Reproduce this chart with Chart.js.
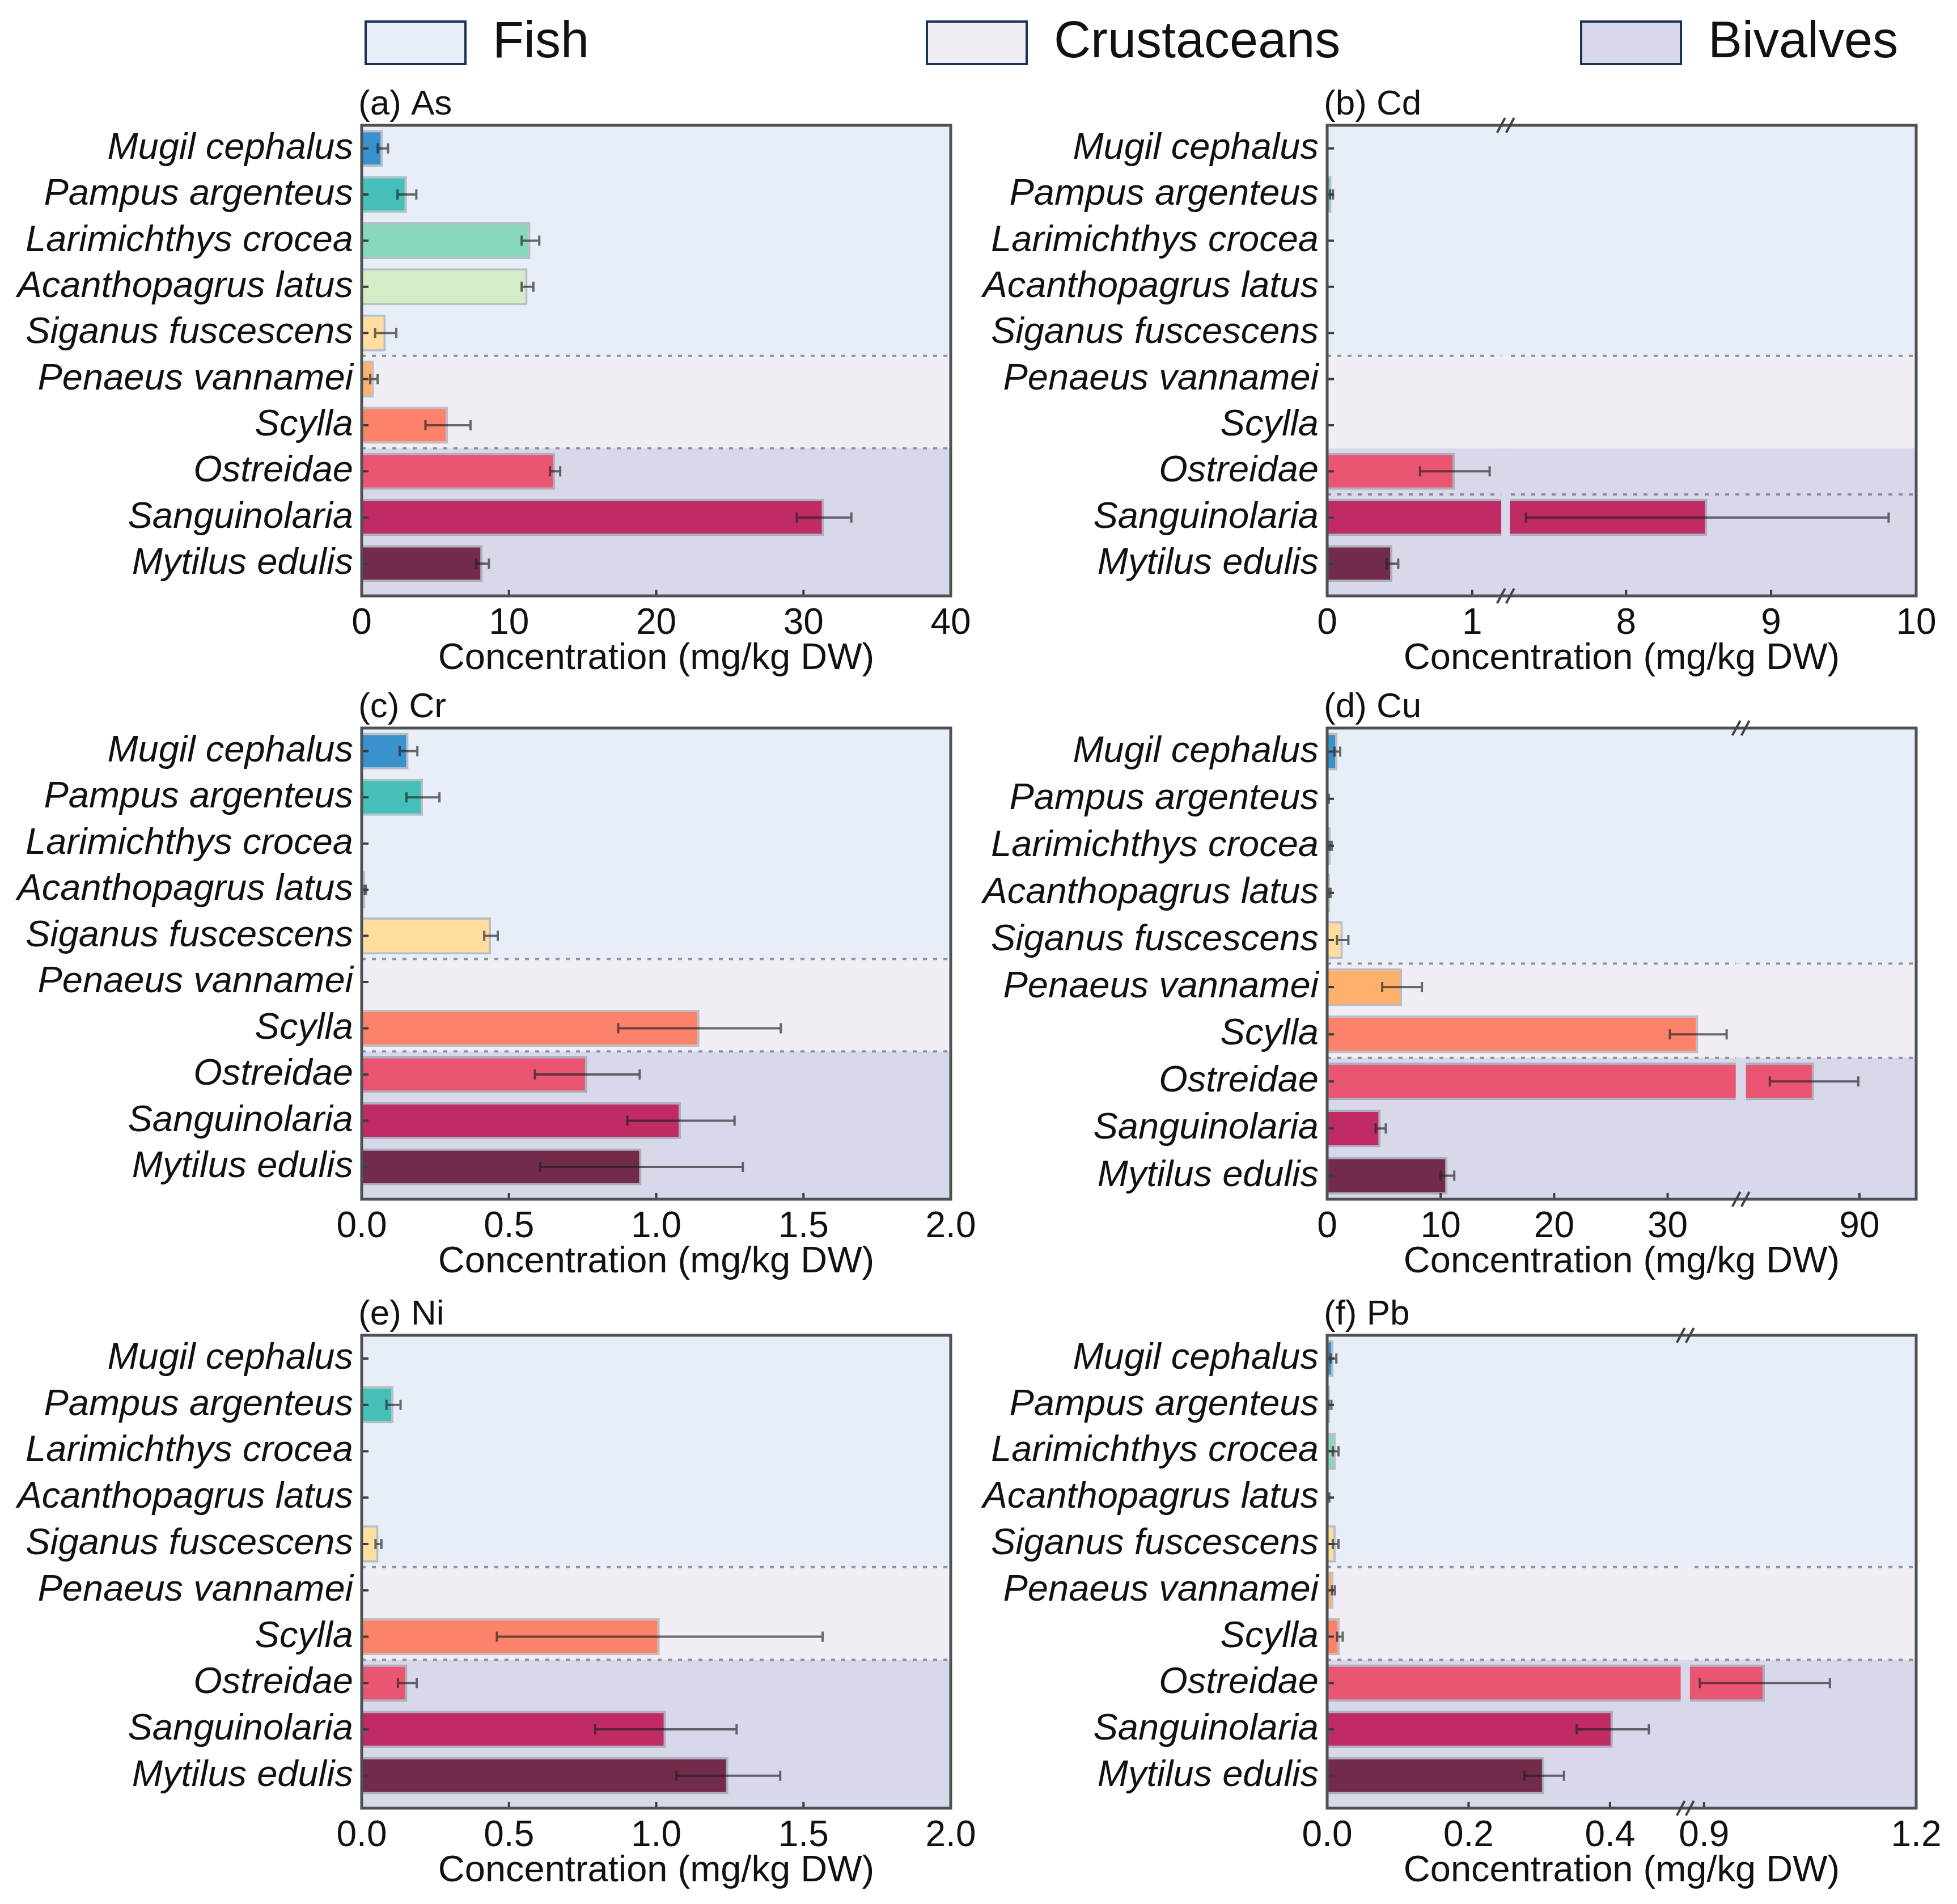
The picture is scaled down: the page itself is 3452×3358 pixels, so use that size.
<!DOCTYPE html>
<html>
<head>
<meta charset="utf-8">
<title>Metal concentrations in seafood</title>
<script src="https://cdn.jsdelivr.net/npm/chart.js@4.4.1/dist/chart.umd.min.js"></script>
<style>
  html, body { margin: 0; padding: 0; background: #fff; }
  #page { position: relative; width: 3452px; height: 3358px; overflow: hidden;
          font-family: "Liberation Sans", Arial, sans-serif; color: #111; }
  canvas { position: absolute; }
  .lg-box { position: absolute; top: 36px; width: 172px; height: 71px; border: 4px solid #1b3157; }
  .lg-text { position: absolute; top: 25px; font-size: 90px; line-height: 90px; white-space: nowrap; }
</style>
</head>
<body>
<div id="page"></div>
<script>
// species, top to bottom
species = [
    'Mugil cephalus', 'Pampus argenteus', 'Larimichthys crocea',
    'Acanthopagrus latus', 'Siganus fuscescens', 'Penaeus vannamei',
    'Scylla', 'Ostreidae', 'Sanguinolaria', 'Mytilus edulis'
]
groupNames = ['Fish', 'Crustaceans', 'Bivalves']
groupColors = ['#e7eef8', '#f1edf4', '#d7d9eb']
barColors = ['#3a92cc', '#45c0b8', '#8ad7c0', '#d4ecc8', '#fedd9f',
             '#fdb16b', '#fd826b', '#ea5672', '#c02b65', '#722b4a']

// mean and sd (mg/kg DW)
asMean = [1.44, 3.07, 11.46, 11.26, 1.63, 0.83, 5.86, 13.13, 31.4, 8.21]
asSd   = [0.35, 0.64, 0.6, 0.4, 0.72, 0.25, 1.53, 0.35, 1.85, 0.43]
asTicks = [0, 10, 20, 30, 40]

cdMean = [0, 0.03, 0, 0, 0, 0, 0, 0.88, 8.56, 0.45]
cdSd   = [0, 0.01, 0, 0, 0, 0, 0, 0.24, 1.25, 0.04]
cdTicks = [0, 1, 8, 9, 10]

crMean = [0.159, 0.208, 0.002, 0.012, 0.439, 0.002, 1.147, 0.766, 1.084, 0.95]
crSd   = [0.03, 0.056, 0, 0.002, 0.023, 0, 0.276, 0.178, 0.182, 0.344]
crTicks = [0, 0.5, 1, 1.5, 2]

cuMean = [0.9, 0.1, 0.3, 0.25, 1.37, 6.6, 32.7, 86.0, 4.72, 10.6]
cuSd   = [0.25, 0.05, 0.1, 0.05, 0.5, 1.75, 2.5, 3.9, 0.45, 0.6]
cuTicks = [0, 10, 20, 30, 90]

niMean = [0, 0.108, 0, 0, 0.057, 0, 1.012, 0.155, 1.033, 1.245]
niSd   = [0, 0.024, 0, 0, 0.01, 0, 0.553, 0.032, 0.24, 0.176]
niTicks = [0, 0.5, 1, 1.5, 2]

pbMean = [0.009, 0.004, 0.012, 0.002, 0.012, 0.009, 0.018, 0.986, 0.404, 0.307]
pbSd   = [0.004, 0.002, 0.004, 0.001, 0.004, 0.002, 0.004, 0.092, 0.051, 0.028]
pbTicks = [0, 0.2, 0.4, 0.9, 1.2]

// group boundaries on the category axis
groupEdges = [4.5, 6.5]

panels = [
    {id: 'a', title: '(a) As', mean: asMean, sd: asSd, ticks: asTicks, max: 40, dec: 0,
     brk: null, lines: [4.5, 6.5], yMax: 9.7, col: 0, top: 221, bottom: 1051},
    {id: 'b', title: '(b) Cd', mean: cdMean, sd: cdSd, ticks: cdTicks, max: 10, dec: 0,
     brk: {a: 1.2, b: 7.2, gap: 0.06}, lines: [4.5, 7.5], yMax: 9.7, col: 1, top: 221, bottom: 1051},
    {id: 'c', title: '(c) Cr', mean: crMean, sd: crSd, ticks: crTicks, max: 2, dec: 1,
     brk: null, lines: [4.5, 6.5], yMax: 9.7, col: 0, top: 1284, bottom: 2115},
    {id: 'd', title: '(d) Cu', mean: cuMean, sd: cuSd, ticks: cuTicks, max: 95, dec: 0,
     brk: {a: 36, b: 80, gap: 0.9}, lines: [4.5, 6.5], yMax: 9.5, col: 1, top: 1284, bottom: 2115},
    {id: 'e', title: '(e) Ni', mean: niMean, sd: niSd, ticks: niTicks, max: 2, dec: 1,
     brk: null, lines: [4.5, 6.5], yMax: 9.7, col: 0, top: 2355, bottom: 3189},
    {id: 'f', title: '(f) Pb', mean: pbMean, sd: pbSd, ticks: pbTicks, max: 1.2, dec: 1,
     brk: {a: 0.5, b: 0.88, gap: 0.013}, lines: [4.5, 6.5], yMax: 9.7, col: 1, top: 2355, bottom: 3189}
]

columns = [
    {left: 0, yWidth: 638, padRight: 49},
    {left: 1726, yWidth: 615, padRight: 72}
]

panelById = {}
panels.forEach(p => panelById['chart-' + p.id] = p)

Chart.defaults.font.family = '"Liberation Sans", Arial, sans-serif'
Chart.defaults.font.size = 64
Chart.defaults.color = '#111'

// linear scale with an optional break: [a, b] is squeezed into a small gap
class BrokenScale extends Chart.LinearScale {
    brk() {
        const p = panelById[this.chart.canvas.id]
        return p ? p.brk : null
    }
    toD(v) {
        const k = this.brk()
        if (!k) return v
        if (v <= k.a) return v
        if (v >= k.b) return v - k.b + k.a + k.gap
        return k.a + (v - k.a) / (k.b - k.a) * k.gap
    }
    getPixelForValue(value) {
        if (value === null || value === undefined || isNaN(value)) return NaN
        const d0 = this.toD(this.min), d1 = this.toD(this.max)
        return this.getPixelForDecimal((this.toD(value) - d0) / (d1 - d0))
    }
    getValueForPixel(pixel) {
        const d0 = this.toD(this.min), d1 = this.toD(this.max)
        const d = d0 + this.getDecimalForPixel(pixel) * (d1 - d0)
        const k = this.brk()
        if (!k || d <= k.a) return d
        if (d >= k.a + k.gap) return d - k.a - k.gap + k.b
        return k.a + (d - k.a) / k.gap * (k.b - k.a)
    }
}
BrokenScale.id = 'broken'
BrokenScale.defaults = Chart.LinearScale.defaults
Chart.register(BrokenScale)

decor = {
    id: 'decor',
    beforeDatasetsDraw(chart) {
        const p = panelById[chart.canvas.id]
        const {ctx, chartArea: ca} = chart
        const y = chart.scales.y
        const edges = [ca.top, y.getPixelForValue(groupEdges[0]), y.getPixelForValue(groupEdges[1]), ca.bottom]
        ctx.save()
        for (let g = 0; g < 3; g++) {
            ctx.fillStyle = groupColors[g]
            ctx.fillRect(ca.left, edges[g], ca.right - ca.left, edges[g + 1] - edges[g])
        }
        ctx.strokeStyle = 'rgba(115, 115, 128, 0.75)'
        ctx.lineWidth = 4
        ctx.setLineDash([7, 11])
        p.lines.forEach(v => {
            const yy = y.getPixelForValue(v)
            ctx.beginPath()
            ctx.moveTo(ca.left, yy)
            ctx.lineTo(ca.right, yy)
            ctx.stroke()
        })
        ctx.restore()
    },
    afterDraw(chart) {
        const p = panelById[chart.canvas.id]
        const {ctx, chartArea: ca} = chart
        const x = chart.scales.x, y = chart.scales.y
        ctx.save()

        // gap of the broken axis
        let gx0 = null, gx1 = null
        if (p.brk) {
            gx0 = x.getPixelForValue(p.brk.a)
            gx1 = x.getPixelForValue(p.brk.b)
            const edges = [ca.top, y.getPixelForValue(groupEdges[0]), y.getPixelForValue(groupEdges[1]), ca.bottom]
            for (let g = 0; g < 3; g++) {
                ctx.fillStyle = groupColors[g]
                ctx.fillRect(gx0, edges[g], gx1 - gx0, edges[g + 1] - edges[g])
            }
        }

        // error bars
        const meta = chart.getDatasetMeta(0)
        ctx.strokeStyle = 'rgba(30, 30, 30, 0.65)'
        ctx.lineWidth = 4
        p.mean.forEach((m, i) => {
            const s = p.sd[i]
            if (!s) return
            const yy = meta.data[i].y
            const x1 = x.getPixelForValue(Math.max(0, m - s))
            const x2 = x.getPixelForValue(m + s)
            ctx.beginPath()
            ctx.moveTo(x1, yy); ctx.lineTo(x2, yy)
            ctx.moveTo(x1, yy - 9); ctx.lineTo(x1, yy + 9)
            ctx.moveTo(x2, yy - 9); ctx.lineTo(x2, yy + 9)
            ctx.stroke()
        })

        // inward ticks
        ctx.strokeStyle = '#3a3d40'
        ctx.lineWidth = 4
        ctx.beginPath()
        species.forEach((s, i) => {
            const yy = y.getPixelForValue(i)
            ctx.moveTo(ca.left, yy); ctx.lineTo(ca.left + 12, yy)
        })
        p.ticks.forEach(v => {
            const xx = x.getPixelForValue(v)
            if (xx - ca.left < 6 || ca.right - xx < 6) return
            ctx.moveTo(xx, ca.bottom); ctx.lineTo(xx, ca.bottom - 11)
        })
        ctx.stroke()

        // frame
        ctx.strokeStyle = '#4c5154'
        ctx.lineWidth = 5
        ctx.strokeRect(ca.left, ca.top, ca.right - ca.left, ca.bottom - ca.top)

        // break marks
        if (p.brk) {
            const mx = (gx0 + gx1) / 2
            ctx.strokeStyle = '#3f4244'
            ctx.lineWidth = 4
            ctx.beginPath()
            ;[ca.top, ca.bottom].forEach(yy => {
                ;[-8, 8].forEach(dx => {
                    ctx.moveTo(mx + dx - 7, yy + 13)
                    ctx.lineTo(mx + dx + 7, yy - 13)
                })
            })
            ctx.stroke()
        }

        // panel title
        ctx.fillStyle = '#111'
        ctx.font = '62px "Liberation Sans", Arial, sans-serif'
        ctx.textAlign = 'left'
        ctx.textBaseline = 'alphabetic'
        ctx.fillText(p.title, ca.left - 6, ca.top - 19)
        ctx.restore()
    }
}

page = document.getElementById('page')

// legend
legendLeft = [643, 1633, 2787]
groupNames.forEach((name, g) => {
    const box = document.createElement('div')
    box.className = 'lg-box'
    box.style.left = legendLeft[g] + 'px'
    box.style.background = groupColors[g]
    page.appendChild(box)
    const txt = document.createElement('div')
    txt.className = 'lg-text'
    txt.style.left = (legendLeft[g] + 226) + 'px'
    txt.textContent = name
    page.appendChild(txt)
})

function init_panel(p) {
    const col = columns[p.col]
    const canvas = document.createElement('canvas')
    canvas.id = 'chart-' + p.id
    const w = 1726, h = (p.bottom - p.top) + 250
    canvas.width = w
    canvas.height = h
    canvas.style.left = col.left + 'px'
    canvas.style.top = (p.top - 100) + 'px'
    canvas.style.width = w + 'px'
    canvas.style.height = h + 'px'
    page.appendChild(canvas)

    const data = {
        datasets: [{
            data: p.mean.map((v, i) => ({x: v, y: i})),
            backgroundColor: barColors,
            borderColor: 'rgba(80, 80, 80, 0.3)',
            borderWidth: 4,
            borderSkipped: 'start',
            barPercentage: 0.8,
            categoryPercentage: 1.0
        }]
    }

    return new Chart(canvas.getContext('2d'), {
        type: 'bar',
        data: data,
        plugins: [decor],
        options: {
            indexAxis: 'y',
            responsive: false,
            animation: false,
            events: [],
            layout: {padding: {top: 100, right: col.padRight, bottom: 0, left: 0}},
            plugins: {
                legend: {display: false},
                tooltip: {enabled: false},
                title: {display: false}
            },
            scales: {
                x: {
                    type: 'broken',
                    min: 0,
                    max: p.max,
                    bounds: 'data',
                    offset: false,
                    grid: {display: false, drawTicks: false},
                    border: {display: false},
                    afterBuildTicks: s => { s.ticks = p.ticks.map(v => ({value: v})) },
                    afterFit: s => { s.height = 150; s.paddingLeft = 0; s.paddingRight = 0 },
                    ticks: {
                        autoSkip: false,
                        maxRotation: 0,
                        padding: 11,
                        color: '#111',
                        font: {size: 64},
                        callback: v => Number(v).toFixed(p.dec)
                    },
                    title: {
                        display: true,
                        text: 'Concentration (mg/kg DW)',
                        color: '#111',
                        font: {size: 65},
                        padding: 0
                    }
                },
                y: {
                    type: 'linear',
                    reverse: true,
                    min: -0.5,
                    max: p.yMax,
                    bounds: 'data',
                    offset: false,
                    grid: {display: false, drawTicks: false, offset: false},
                    border: {display: false},
                    afterBuildTicks: s => { s.ticks = species.map((n, i) => ({value: i})) },
                    afterFit: s => { s.width = col.yWidth; s.paddingTop = 0; s.paddingBottom = 0 },
                    ticks: {
                        autoSkip: false,
                        padding: 15,
                        color: '#111',
                        font: {size: 65, style: 'italic'},
                        callback: v => species[v]
                    }
                }
            }
        }
    })
}

panels.forEach(p => init_panel(p))
</script>
</body>
</html>
